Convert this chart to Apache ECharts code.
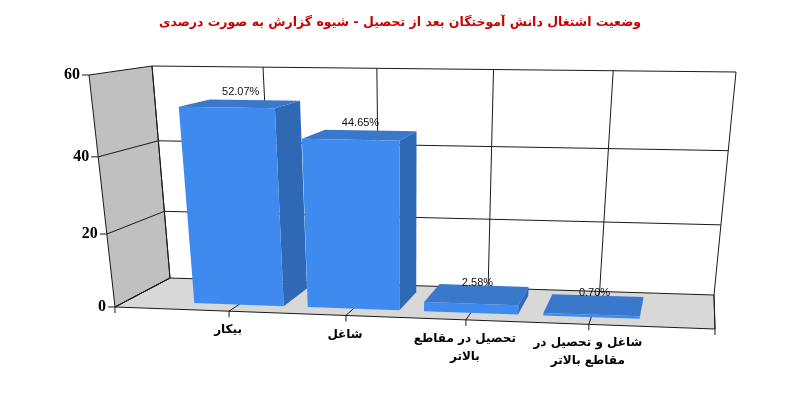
<!DOCTYPE html>
<html>
<head>
<meta charset="utf-8">
<style>
  html, body { margin: 0; padding: 0; background: #fff; }
  #chart { width: 800px; height: 400px; }
</style>
<script src="https://cdn.jsdelivr.net/npm/echarts@6/dist/echarts.min.js"></script>
</head>
<body>
<div id="chart"></div>
<script>
const chartTitle = 'وضعیت اشتغال دانش آموختگان بعد از تحصیل - شیوه گزارش به صورت درصدی';
const categories = ['بیکار', 'شاغل', 'تحصیل در مقاطع\nبالاتر', 'شاغل و تحصیل در\nمقاطع بالاتر'];
const categorySlots = [1, 2, 3, 4];
const values = [52.07, 44.65, 2.58, 0.70];
const valueLabels = ['52.07%', '44.65%', '2.58%', '0.70%'];
const yTicks = [0, 20, 40, 60];
const xGridLines = [0, 1, 2, 3, 4, 5];

// Hidden cartesian grid gives the scales, project() bends them into the 3D box
const grid = { left: 100, top: 60, width: 600, height: 240 };

// Corners of the box on screen: [front, back]
const box = {
  bottomLeft: [[115, 307], [170, 278]],
  bottomRight: [[715, 329], [714, 295]],
  topLeft: [[89, 75], [152, 66]],
  topRight: [[745, 85], [736, 72]]
};
const barFront = 0.22;
const barBack = 0.8;
const barHalf = 0.395;

const bend = (t, k) => t / (t + (1 - t) * k);
const mix = (a, b, t) => a + (b - a) * t;
const mixPt = (a, b, t) => [mix(a[0], b[0], t), mix(a[1], b[1], t)];

const project = (api, x, y, depth) => {
  const p = api.coord([x, y]);
  const u = bend((p[0] - grid.left) / grid.width, 1.065);
  const v = bend(1 - (p[1] - grid.top) / grid.height, 1.09);
  const bottom = mixPt(mixPt(box.bottomLeft[0], box.bottomRight[0], u), mixPt(box.bottomLeft[1], box.bottomRight[1], u), depth);
  const top = mixPt(mixPt(box.topLeft[0], box.topRight[0], u), mixPt(box.topLeft[1], box.topRight[1], u), depth);
  return mixPt(bottom, top, v);
};

const poly = (points, fill) => ({
  type: 'polygon',
  shape: { points },
  style: { fill, stroke: null }
});
const line = (a, b) => ({
  type: 'line',
  shape: { x1: a[0], y1: a[1], x2: b[0], y2: b[1] },
  style: { stroke: '#1a1a1a', lineWidth: 1 }
});

const renderWalls = (params, api) => {
  const xMax = 5, yMax = 60;
  return {
    type: 'group',
    children: [
      poly([project(api, 0, 0, 0), project(api, 0, yMax, 0), project(api, 0, yMax, 1), project(api, 0, 0, 1)], '#c0c0c0'),
      poly([project(api, 0, 0, 0), project(api, 0, 0, 1), project(api, xMax, 0, 1), project(api, xMax, 0, 0)], '#d8d8d8'),
      line(project(api, 0, 0, 0), project(api, 0, yMax, 0)),
      line(project(api, 0, 0, 1), project(api, 0, yMax, 1)),
      line(project(api, 0, 0, 0), project(api, 0, 0, 1)),
      line(project(api, 0, 0, 0), project(api, xMax, 0, 0)),
      line(project(api, xMax, 0, 0), project(api, xMax, 0, 1))
    ]
  };
};

const renderYTick = (params, api) => {
  const y = api.value(0);
  const front = project(api, 0, y, 0);
  return {
    type: 'group',
    children: [
      line([front[0] - 7, front[1]], front),
      line(front, project(api, 0, y, 1)),
      line(project(api, 0, y, 1), project(api, 5, y, 1)),
      {
        type: 'text',
        style: {
          x: front[0] - 9, y: front[1],
          text: String(y),
          align: 'right', verticalAlign: 'middle',
          font: 'bold 16px "Liberation Serif"',
          fill: '#000'
        }
      }
    ]
  };
};

const renderXLine = (params, api) => {
  const x = api.value(0);
  const front = project(api, x, 0, 0);
  const children = [
    line(project(api, x, 0, 1), project(api, x, 60, 1)),
    line(project(api, x, 0, 1), front),
    line(front, [front[0], front[1] + 6])
  ];
  if (categories[x - 1]) {
    children.push({
      type: 'text',
      style: {
        x: front[0] - 1, y: front[1] + 10,
        text: categories[x - 1],
        align: 'center', verticalAlign: 'top',
        font: 'bold 12px "DejaVu Sans"',
        lineHeight: 18,
        fill: '#000'
      }
    });
  }
  return { type: 'group', children };
};

const renderBar = (params, api) => {
  const x = api.value(0), y = api.value(1);
  const x0 = x - barHalf, x1 = x + barHalf;
  const flb = project(api, x0, 0, barFront), frb = project(api, x1, 0, barFront);
  const flt = project(api, x0, y, barFront), frt = project(api, x1, y, barFront);
  const brb = project(api, x1, 0, barBack);
  const blt = project(api, x0, y, barBack), brt = project(api, x1, y, barBack);
  const labelAt = project(api, x, y, (barFront + barBack) / 2);
  return {
    type: 'group',
    children: [
      poly([frb, frt, brt, brb], '#2f69b5'),
      poly([flt, frt, brt, blt], '#3a78cc'),
      poly([flb, flt, frt, frb], '#3f8aef'),
      {
        type: 'text',
        z2: 10,
        style: {
          x: labelAt[0], y: labelAt[1] - 12,
          text: valueLabels[params.dataIndex],
          align: 'center', verticalAlign: 'middle',
          font: '11px "Liberation Sans"',
          fill: '#111'
        }
      }
    ]
  };
};

const chart = echarts.init(document.getElementById('chart'));
chart.setOption({
  animation: false,
  backgroundColor: '#fff',
  title: {
    text: chartTitle,
    left: 'center',
    top: 11,
    textStyle: {
      fontFamily: 'DejaVu Sans',
      fontSize: 12.5,
      fontWeight: 'bold',
      color: '#cc0000',
      textShadowColor: 'rgba(0,0,0,0.6)',
      textShadowBlur: 0,
      textShadowOffsetX: 1,
      textShadowOffsetY: 0
    }
  },
  grid,
  xAxis: { type: 'value', min: 0, max: 5, show: false },
  yAxis: { type: 'value', min: 0, max: 60, interval: 20, show: false },
  series: [
    { type: 'custom', z: 1, clip: false, silent: true, renderItem: renderWalls, data: [[0]] },
    { type: 'custom', z: 2, clip: false, silent: true, renderItem: renderXLine, data: xGridLines.map((x) => [x]) },
    { type: 'custom', z: 3, clip: false, silent: true, renderItem: renderYTick, data: yTicks.map((y) => [y]) },
    {
      type: 'custom', z: 4, clip: false, silent: true, renderItem: renderBar,
      encode: { x: 0, y: 1 },
      data: categorySlots.map((x, i) => [x, values[i]])
    }
  ]
});
</script>
</body>
</html>
